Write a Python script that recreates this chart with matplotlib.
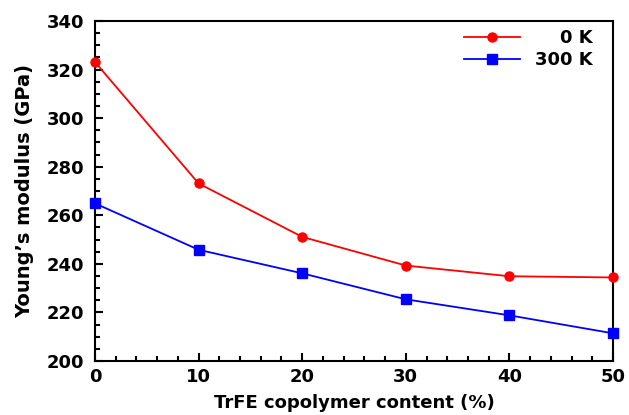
import matplotlib
matplotlib.use("Agg")
import matplotlib.pyplot as plt
from matplotlib.ticker import MultipleLocator

plt.rcParams['font.family'] = ['DejaVu Sans']
plt.rcParams['font.weight'] = 'bold'

# TrFE content (%) and Young's modulus (GPa)
trfe = [0, 10, 20, 30, 40, 50]
e_0k = [323.1, 273.1, 251.1, 239.3, 234.9, 234.4]
e_300k = [264.9, 245.8, 236.1, 225.4, 218.8, 211.4]

fig = plt.figure(figsize=(6.29, 4.15), dpi=100)
ax = fig.add_axes([95 / 629, 1 - 361 / 415, 518 / 629, 340 / 415])

ax.plot(trfe, e_0k, "-o", color="red", lw=1.3, ms=6.5, label="0 K", clip_on=False, zorder=3)
ax.plot(trfe, e_300k, "-s", color="blue", lw=1.3, ms=6.5, label="300 K", clip_on=False, zorder=3)

ax.set_xlim(0, 50)
ax.set_ylim(200, 340)
ax.xaxis.set_major_locator(MultipleLocator(10))
ax.xaxis.set_minor_locator(MultipleLocator(2))
ax.yaxis.set_major_locator(MultipleLocator(20))
ax.yaxis.set_minor_locator(MultipleLocator(5))
ax.tick_params(which="both", direction="in", top=False, right=False, width=1.5)
ax.tick_params(which="major", length=6, labelsize=13)
ax.tick_params(axis="y", which="major", pad=8)
ax.tick_params(axis="x", which="major", pad=5)
ax.tick_params(which="minor", length=3.5)
for s in ax.spines.values():
    s.set_linewidth(1.5)

ax.set_xlabel("TrFE copolymer content (%)", fontsize=13, fontweight="bold", labelpad=6)
ax.set_ylabel("Young’s modulus (GPa)", fontsize=14, fontweight="bold", labelpad=9)

leg = ax.legend(loc="upper right", frameon=False, fontsize=13, handlelength=3.1,
                handletextpad=0.8, labelspacing=0.25, borderaxespad=0.0,
                bbox_to_anchor=(0.974, 0.998))
fig.canvas.draw()
renderer = fig.canvas.get_renderer()
texts = leg.get_texts()
boxes = [t.get_window_extent(renderer) for t in texts]
right = max(b.x1 for b in boxes)
for t, b in zip(texts, boxes):
    t.set_visible(False)
    fig.text(right / fig.bbox.width, b.y0 / fig.bbox.height, t.get_text(),
             ha="right", va="bottom", fontsize=13, fontweight="bold")

fig.savefig("out.png", dpi=100)
